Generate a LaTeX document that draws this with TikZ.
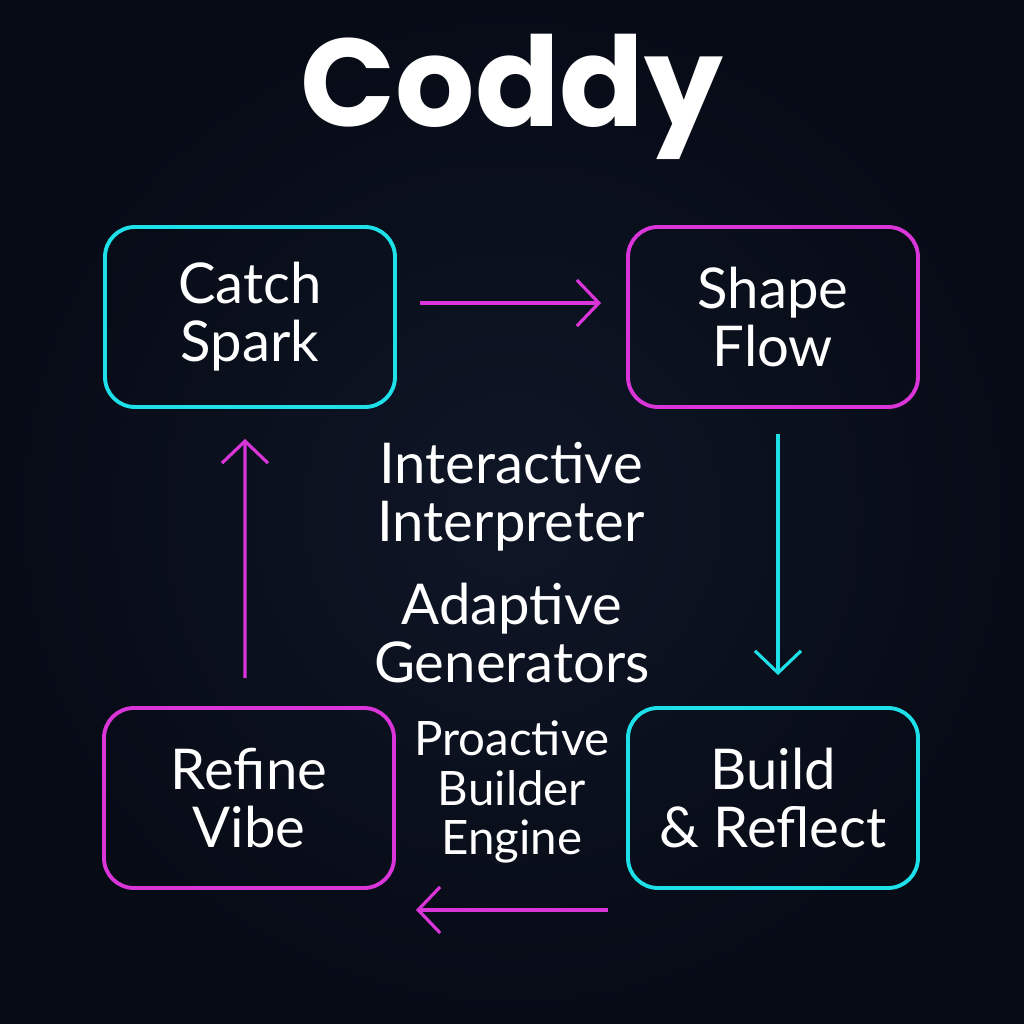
\documentclass[tikz,border=0pt]{standalone}
\usepackage{fontspec}
\setmainfont{Lato}
\newfontfamily\titlefont{Poppins}
\usetikzlibrary{arrows.meta,calc}
\definecolor{nightbg}{HTML}{070B16}
\definecolor{nightmid}{HTML}{0F1626}
\definecolor{sparkcyan}{HTML}{1EE0E8}
\definecolor{flowpink}{HTML}{D935D9}

\begin{document}
\begin{tikzpicture}[
    stage/.style={draw, line width=1.1pt, rounded corners=0.3cm, minimum width=2.9cm,
        minimum height=1.8cm, align=center, text=white,
        font=\fontsize{16}{16.5}\selectfont},
    loop/.style={line width=0.9pt, -{Straight Barb[length=0.22cm,width=0.46cm,line width=0.9pt]}},
    core/.style={text=white, align=center}
]
    % Background
    \useasboundingbox (0,0) rectangle (10.24,10.24);
    \shade[inner color=nightmid, outer color=nightbg] (0,0) rectangle (10.24,10.24);

    % Title
    \node[text=white, font=\titlefont\bfseries\fontsize{35.5}{36}\selectfont, anchor=base] (title) at (5.12,8.97) {Coddy};

    % Four stages
    \node[stage, sparkcyan] (catch) at (2.50,7.07) {\color{white}Catch\\\color{white}Spark};
    \node[stage, flowpink] (shape) at (7.73,7.07) {\color{white}Shape\\\color{white}Flow};
    \node[stage, flowpink] (refine) at (2.49,2.26) {\color{white}Refine\\\color{white}Vibe};
    \node[stage, sparkcyan] (build) at (7.73,2.26) {\color{white}Build\\\color{white}\& Reflect};

    % Engines in the middle
    \node[core, font=\fontsize{16}{16.5}\selectfont] (interp) at (5.11,5.27) {Interactive\\Interpreter};
    \node[core, font=\fontsize{16}{16.5}\selectfont] (gen) at (5.12,3.91) {Adaptive\\Generators};
    \node[core, font=\fontsize{13.5}{14}\selectfont] (engine) at (5.12,2.32) {Proactive\\Builder\\Engine};

    % Cycle arrows
    \draw[loop, flowpink] ($(catch.east)+(0.23,0.14)$) -- ($(shape.west)+(-0.25,0.14)$);
    \draw[loop, sparkcyan] ($(shape.south)+(0.05,-0.25)$) -- ($(build.north)+(0.05,0.31)$);
    \draw[loop, flowpink] ($(build.south west)+(-0.18,-0.2)$) -- ($(refine.south east)+(0.2,-0.2)$);
    \draw[loop, flowpink] ($(refine.north)+(-0.04,0.28)$) -- ($(catch.south)+(-0.05,-0.30)$);
\end{tikzpicture}
\end{document}
